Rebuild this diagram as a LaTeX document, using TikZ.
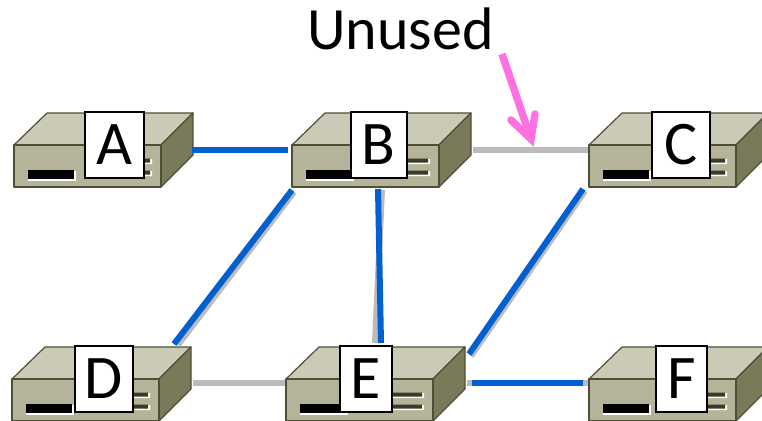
\documentclass[tikz,border=0pt]{standalone}
\usepackage{fontspec}
\setmainfont{Carlito}
\definecolor{rtop}{HTML}{CBCAB6}
\definecolor{rfront}{HTML}{B5B49B}
\definecolor{rside}{HTML}{7A7A5A}
\definecolor{redge}{HTML}{4F4F38}
\definecolor{slotc}{HTML}{3A3A28}
\definecolor{linkblue}{HTML}{0060D0}
\definecolor{linkgray}{HTML}{BBBBBB}
\definecolor{pinkarrow}{HTML}{FF70E0}
\tikzset{
  routerface/.style={draw=redge,line width=1.2pt,line join=round},
  routerbox/.style={minimum width=179pt,minimum height=74pt,inner sep=0pt,outer sep=1.5pt},
  letterbox/.style={draw=black,fill=white,line width=1.5pt,inner sep=0pt,font=\fontsize{62}{62}\selectfont},
  activelink/.style={draw=linkblue,line width=6pt},
  idlelink/.style={draw=linkgray,line width=6pt},
  pinkline/.style={draw=pinkarrow,line width=7.5pt},
}
% name, x, y of the front face corner, letter, left and right of the letter box (relative)
\newcommand{\router}[6]{%
  \begin{scope}[shift={(#2,#3)}]
    \path[routerface,fill=rtop] (0,0) -- (33,-32) -- (179,-32) -- (147,0) -- cycle;
    \path[routerface,fill=rside] (147,0) -- (179,-32) -- (179,10) -- (147,42) -- cycle;
    \path[routerface,fill=rfront] (0,0) rectangle (147,42);
    \fill[white] (14,26) rectangle (62,35.5);
    \fill[black] (14,25) rectangle (60,34);
    \fill[white] (100,14) rectangle (138,19) (100,26) rectangle (138,31);
    \fill[slotc] (100,13.5) rectangle (136,17.5) (100,25.5) rectangle (136,29.5);
    \node[routerbox] (#1) at (89.5,5) {};
    \node[letterbox,minimum width={(#6)-(#5)},minimum height=66pt,anchor=north west] (#1label) at (#5,-34) {#4};
  \end{scope}%
}
\begin{document}
\begin{tikzpicture}[x=1pt,y=-1pt]
\useasboundingbox (0,0) rectangle (762,420);
\clip (0,0) rectangle (762,420);
\fill[white] (0,0) rectangle (762,420);
\router{a}{14}{145}{A}{70}{129}
\router{b}{292}{145}{B}{58}{114}
\router{c}{589}{145}{C}{62}{120}
\router{d}{12}{379}{D}{62}{120}
\router{e}{286}{379}{E}{53}{105}
\router{f}{589}{379}{F}{66}{117}
% idle and shadow links
\draw[idlelink] (b.east) -- (c.west);
\draw[idlelink] ([yshift=1pt]d.east) -- ([yshift=1pt]e.west);
\draw[idlelink] ([xshift=3.5pt,yshift=-3.5pt]b.south west) -- ([xshift=-14.5pt,yshift=0.5pt]d.north east);
\draw[idlelink] ([xshift=91.5pt,yshift=-1.5pt]b.south west) -- ([xshift=90.5pt,yshift=2.5pt]e.north west);
\draw[idlelink] ([xshift=-2.5pt,yshift=-2.5pt]c.south west) -- ([xshift=4.5pt,yshift=-10.5pt]e.north east);
\draw[idlelink] ([yshift=1pt]e.east) -- ([yshift=1pt]f.west);
% active links
\draw[activelink] ([xshift=-2.5pt]a.east) -- ([xshift=-2.5pt]b.west);
\draw[activelink] ([xshift=1.5pt,yshift=-1.5pt]b.south west) -- ([xshift=-18.5pt,yshift=1.5pt]d.north east);
\draw[activelink] ([xshift=87.5pt,yshift=-0.5pt]b.south west) -- ([xshift=96.5pt,yshift=2.5pt]e.north west);
\draw[activelink] ([xshift=-4.5pt,yshift=-0.5pt]c.south west) -- ([xshift=2.5pt,yshift=-8.5pt]e.north east);
\draw[activelink] ([xshift=5.5pt,yshift=1pt]e.east) -- ([xshift=-4.5pt,yshift=1pt]f.west);
% annotation
\node[inner sep=0pt,font=\fontsize{60}{60}\selectfont] (unused) at (400.5,29) {Unused};
\coordinate (tip) at (531,139);
\draw[pinkline,line cap=butt] ([xshift=101.5pt,yshift=-25pt]unused.center) -- (tip);
\draw[pinkline,line cap=round,line join=miter] (511,120) -- (tip) -- (535,114);
\end{tikzpicture}
\end{document}
